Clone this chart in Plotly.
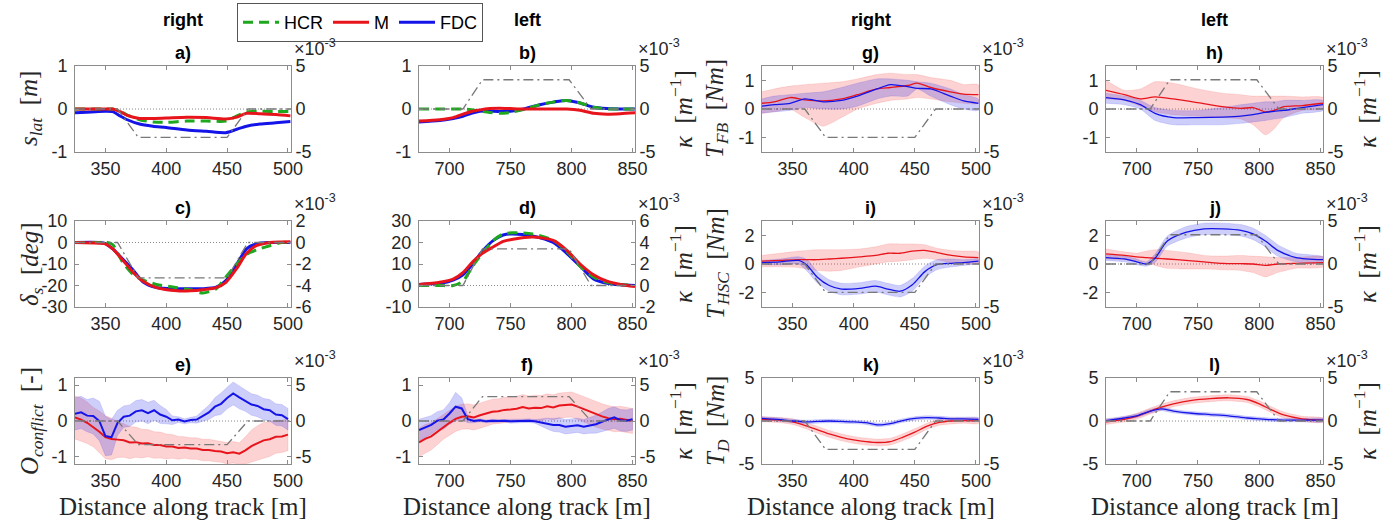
import plotly.graph_objects as go

W, H = 1396, 527

# ---------------- data ----------------
# track curvature profile (units of 1e-3 1/m)
kap_x_right = [325, 360, 377, 450, 467, 502.5]
kap_right = [0, 0, -3.3, -3.3, 0, 0]
kap_x_left = [675, 711, 727, 798, 816, 852]
kap_left = [0, 0, 3.4, 3.4, 0, 0]

# a) s_lat, right turn
a_x = [325, 350, 356, 362, 368, 378, 389, 400, 417, 433, 449, 458, 466, 477, 490, 502]
a_hcr = [0, 0, 0, -0.05, -0.14, -0.25, -0.3, -0.31, -0.28, -0.28, -0.28, -0.16, -0.07, -0.05, -0.06, -0.06]
a_m = [0, 0, 0, -0.06, -0.15, -0.22, -0.22, -0.21, -0.19, -0.2, -0.23, -0.19, -0.1, -0.11, -0.13, -0.16]
a_fdc = [-0.09, -0.05, -0.06, -0.16, -0.25, -0.35, -0.4, -0.43, -0.49, -0.52, -0.55, -0.47, -0.4, -0.35, -0.32, -0.29]

# b) s_lat, left turn
b_x = [675, 692, 703, 711, 718, 725, 733, 741, 750, 758, 766, 774, 785, 796, 807, 818, 829, 840, 852]
b_hcr = [0, 0, 0, 0, -0.02, -0.05, -0.08, -0.1, -0.08, -0.03, 0.03, 0.1, 0.16, 0.2, 0.14, 0.04, 0.0, 0.0, 0.0]
b_m = [-0.28, -0.25, -0.2, -0.12, -0.06, -0.02, 0.01, 0.02, 0.01, 0.0, 0.0, 0.0, 0.0, 0.0, -0.03, -0.1, -0.12, -0.11, -0.09]
b_fdc = [-0.3, -0.27, -0.22, -0.17, -0.1, -0.05, -0.05, -0.06, -0.05, -0.02, 0.04, 0.1, 0.16, 0.2, 0.14, 0.04, 0.01, 0.0, 0.0]

# c) delta_s, right turn
c_x = [325, 345, 350, 356, 364, 373, 381, 392, 409, 420, 430, 441, 449, 458, 466, 474, 485, 495, 502]
c_hcr = [0, 0, 0.3, -1, -9, -15, -17.5, -19.5, -21, -22, -23.5, -21.5, -16, -10, -5.5, -3.5, -1.5, 0, 0]
c_m = [0, -0.3, -0.6, -3, -8, -14, -18, -21, -22.5, -22.5, -22, -21, -18.5, -12, -5, -1.5, 0, 0.2, 0.3]
c_fdc = [0, 0, -0.5, -3, -7.6, -13, -18.4, -21, -21.5, -21.5, -21.5, -20.8, -17.7, -10, -3, -0.6, 0, 0, 0]

# d) delta_s, left turn
d_x = [675, 692, 703, 711, 719, 727, 736, 744, 752, 768, 785, 796, 807, 818, 829, 840, 852]
d_hcr = [0, 0, 0, 2, 9, 15, 21, 24, 24.5, 24, 21, 16, 9, 4, 1.5, 0.5, 0]
d_m = [0.5, 1.5, 3, 6, 11, 15, 18, 20.5, 21.5, 22.5, 21, 16.5, 10, 5, 2, 0.5, -0.5]
d_fdc = [0.5, 1, 2.5, 5, 10, 16, 21, 23.5, 24, 23, 20, 15, 9, 3, 1, 0.3, 0]

# e) O_conflict, right turn (mean and sd)
e_x = [325, 330, 335, 340, 345, 350, 355, 360, 365, 370, 375, 380, 385, 390, 395, 400, 405, 410,
       415, 420, 425, 430, 435, 440, 445, 450, 455, 460, 465, 470, 475, 480, 485, 490, 495, 500]
e_fdc = [0.2, 0.24, 0.15, 0.14, 0.0, -0.42, -0.45, -0.05, 0.12, 0.15, 0.27, 0.3, 0.22, 0.3, 0.18, 0.12, 0.02, 0.04,
         -0.01, 0.03, 0.04, 0.14, 0.24, 0.4, 0.48, 0.64, 0.77, 0.66, 0.57, 0.46, 0.42, 0.33, 0.3, 0.18, 0.16, 0.05]
e_fdc_sd = [0.45, 0.45, 0.45, 0.5, 0.55, 0.55, 0.5, 0.35, 0.3, 0.3, 0.3, 0.3, 0.3, 0.28, 0.25, 0.2, 0.12, 0.08,
            0.07, 0.08, 0.1, 0.15, 0.2, 0.25, 0.3, 0.3, 0.32, 0.32, 0.3, 0.3, 0.3, 0.3, 0.3, 0.3, 0.3, 0.3]
e_m = [0.1, 0.04, -0.05, -0.17, -0.3, -0.45, -0.5, -0.52, -0.54, -0.6, -0.59, -0.63, -0.62, -0.67, -0.67, -0.71, -0.71, -0.75,
       -0.74, -0.77, -0.77, -0.81, -0.81, -0.84, -0.85, -0.9, -0.87, -0.91, -0.82, -0.7, -0.61, -0.54, -0.51, -0.44, -0.43, -0.38]
e_m_sd = [0.6, 0.6, 0.58, 0.55, 0.58, 0.6, 0.58, 0.5, 0.47, 0.45, 0.42, 0.4, 0.38, 0.37, 0.36, 0.35, 0.33, 0.32,
          0.3, 0.3, 0.3, 0.3, 0.3, 0.3, 0.3, 0.3, 0.3, 0.3, 0.38, 0.45, 0.48, 0.5, 0.48, 0.46, 0.45, 0.45]

# f) O_conflict, left turn (mean and sd)
f_x = [675, 680, 685, 690, 695, 700, 705, 710, 715, 720, 725, 730, 735, 740, 745, 750, 755, 760,
       765, 770, 775, 780, 785, 790, 795, 800, 805, 810, 815, 820, 825, 830, 835, 840, 845, 850]
f_fdc = [-0.25, -0.18, -0.11, 0.01, 0.04, 0.21, 0.4, 0.35, 0.05, 0.0, 0.02, -0.01, 0.01, 0.0, 0.01, -0.01, 0.0, 0.0,
         0.01, -0.01, -0.04, -0.07, -0.11, -0.11, -0.16, -0.14, -0.12, -0.16, -0.12, -0.09, -0.02, 0.05, 0.1, 0.02, 0.01, 0.05]
f_fdc_sd = [0.3, 0.28, 0.26, 0.25, 0.27, 0.3, 0.4, 0.3, 0.1, 0.05, 0.04, 0.04, 0.04, 0.04, 0.04, 0.05, 0.05, 0.05,
            0.05, 0.05, 0.1, 0.15, 0.18, 0.2, 0.2, 0.2, 0.2, 0.2, 0.22, 0.25, 0.27, 0.3, 0.3, 0.3, 0.3, 0.3]
f_m = [-0.6, -0.5, -0.43, -0.3, -0.16, -0.05, 0.06, 0.12, 0.13, 0.1, 0.16, 0.2, 0.26, 0.27, 0.31, 0.32, 0.34, 0.39,
       0.35, 0.37, 0.36, 0.41, 0.38, 0.43, 0.45, 0.46, 0.4, 0.33, 0.25, 0.18, 0.13, 0.08, 0.05, 0.06, 0.02, 0.0]
f_m_sd = [0.4, 0.4, 0.38, 0.36, 0.35, 0.35, 0.35, 0.35, 0.35, 0.35, 0.35, 0.35, 0.35, 0.35, 0.35, 0.35, 0.35, 0.35,
          0.35, 0.35, 0.35, 0.35, 0.35, 0.35, 0.35, 0.35, 0.35, 0.35, 0.35, 0.35, 0.35, 0.35, 0.35, 0.35, 0.35, 0.35]

# g) T_FB, right turn
g_x = [325, 335, 348, 360, 375, 390, 403, 419, 430, 444, 452, 463, 479, 490, 502]
g_m = [0.2, 0.25, 0.4, 0.32, 0.28, 0.35, 0.5, 0.7, 0.75, 0.82, 0.9, 0.75, 0.6, 0.52, 0.5]
g_m_hi = [0.6, 0.7, 0.8, 0.85, 0.9, 0.95, 1.05, 1.2, 1.25, 1.2, 1.2, 1.1, 1.0, 0.85, 0.85]
g_m_lo = [-0.15, -0.1, 0.0, -0.3, -0.6, -0.3, 0.0, 0.2, 0.3, 0.35, 0.4, 0.35, 0.25, 0.2, 0.2]
g_fdc = [0.1, 0.15, 0.2, 0.35, 0.25, 0.3, 0.45, 0.7, 0.85, 0.78, 0.72, 0.7, 0.45, 0.28, 0.2]
g_fdc_hi = [0.35, 0.45, 0.5, 0.55, 0.6, 0.75, 0.9, 1.05, 1.05, 1.0, 0.95, 0.9, 0.7, 0.5, 0.35]
g_fdc_lo = [-0.15, -0.1, -0.05, 0.05, 0.0, 0.0, 0.1, 0.35, 0.45, 0.45, 0.7, 0.45, 0.15, 0.0, -0.05]

# h) T_FB, left turn
h_x = [675, 690, 703, 715, 730, 750, 770, 785, 795, 805, 812, 820, 835, 852]
h_m = [0.65, 0.5, 0.35, 0.42, 0.35, 0.22, 0.08, 0.02, 0.05, -0.1, -0.05, 0.08, 0.12, 0.2]
h_m_hi = [1.0, 0.65, 0.7, 0.95, 0.9, 0.7, 0.55, 0.5, 0.45, 0.45, 0.45, 0.45, 0.42, 0.4]
h_m_lo = [0.35, 0.3, 0.1, -0.1, -0.2, -0.25, -0.3, -0.35, -0.55, -0.9, -0.7, -0.3, -0.05, 0.0]
h_fdc = [0.4, 0.32, 0.15, -0.15, -0.3, -0.3, -0.28, -0.25, -0.2, -0.12, -0.08, -0.05, 0.05, 0.15]
h_fdc_hi = [0.55, 0.45, 0.3, 0.05, -0.05, -0.05, 0.05, 0.15, 0.2, 0.25, 0.25, 0.3, 0.3, 0.3]
h_fdc_lo = [0.2, 0.15, 0.0, -0.4, -0.55, -0.55, -0.55, -0.5, -0.45, -0.4, -0.35, -0.3, -0.15, -0.05]

# i) T_HSC, right turn
i_x = [325, 340, 355, 362, 370, 380, 390, 405, 418, 428, 438, 448, 458, 468, 480, 490, 502]
i_m = [0.2, 0.25, 0.3, 0.3, 0.3, 0.35, 0.4, 0.5, 0.6, 0.75, 0.75, 0.9, 0.95, 0.8, 0.6, 0.5, 0.45]
i_m_hi = [0.6, 0.75, 0.9, 0.95, 1.0, 1.0, 1.0, 1.05, 1.2, 1.4, 1.4, 1.4, 1.35, 1.1, 0.95, 0.9, 0.85]
i_m_lo = [-0.2, -0.2, -0.25, -0.35, -0.45, -0.5, -0.45, -0.2, 0.0, 0.15, 0.2, 0.3, 0.4, 0.3, 0.1, 0.05, 0.0]
i_fdc = [0.1, 0.15, 0.25, -0.1, -0.9, -1.5, -1.75, -1.7, -1.55, -1.75, -1.9, -1.45, -0.55, -0.05, 0.05, 0.1, 0.2]
i_fdc_hi = [0.25, 0.35, 0.5, 0.3, -0.5, -1.1, -1.35, -1.3, -1.15, -1.35, -1.5, -1.0, -0.15, 0.3, 0.35, 0.3, 0.35]
i_fdc_lo = [-0.05, -0.05, 0.0, -0.5, -1.3, -1.9, -2.15, -2.1, -1.95, -2.15, -2.3, -1.9, -0.95, -0.4, -0.2, -0.1, 0.05]

# j) T_HSC, left turn
j_x = [675, 690, 700, 708, 715, 725, 740, 755, 770, 785, 795, 805, 815, 830, 852]
j_m = [0.7, 0.6, 0.5, 0.45, 0.4, 0.35, 0.25, 0.15, 0.05, 0.02, 0.0, -0.1, 0.0, 0.05, 0.1]
j_m_hi = [1.05, 0.85, 0.75, 0.9, 1.0, 0.95, 0.8, 0.6, 0.55, 0.6, 0.55, 0.5, 0.45, 0.45, 0.5]
j_m_lo = [0.35, 0.3, 0.2, 0.1, -0.1, -0.3, -0.35, -0.35, -0.4, -0.45, -0.6, -0.9, -0.6, -0.3, -0.2]
j_fdc = [0.45, 0.35, 0.15, 0.0, 0.4, 1.6, 2.2, 2.45, 2.45, 2.35, 2.1, 1.6, 0.95, 0.45, 0.3]
j_fdc_hi = [0.65, 0.55, 0.35, 0.15, 0.7, 1.95, 2.6, 2.85, 2.85, 2.75, 2.5, 2.0, 1.35, 0.75, 0.5]
j_fdc_lo = [0.25, 0.15, -0.05, -0.15, 0.1, 1.25, 1.8, 2.05, 2.05, 1.95, 1.7, 1.2, 0.55, 0.15, 0.1]

# k) T_D, right turn
k_x = [325, 340, 350, 360, 370, 380, 390, 400, 410, 420, 430, 440, 450, 460, 470, 480, 490, 502]
k_m = [0.2, 0.1, -0.1, -0.5, -1.0, -1.5, -1.9, -2.2, -2.4, -2.5, -2.4, -1.9, -1.3, -0.6, -0.15, 0.0, 0.05, 0.0]
k_m_hi = [0.5, 0.4, 0.25, -0.15, -0.6, -1.1, -1.5, -1.8, -2.0, -2.1, -2.0, -1.5, -0.9, -0.25, 0.2, 0.35, 0.35, 0.3]
k_m_lo = [-0.1, -0.2, -0.4, -0.85, -1.4, -1.9, -2.3, -2.6, -2.8, -2.9, -2.8, -2.3, -1.7, -0.95, -0.5, -0.35, -0.25, -0.3]
k_fdc = [0.3, 0.15, 0.0, -0.1, -0.05, 0.0, -0.05, -0.1, -0.2, -0.45, -0.3, 0.05, 0.3, 0.4, 0.35, 0.25, 0.25, 0.2]
k_fdc_hi = [0.5, 0.35, 0.2, 0.1, 0.15, 0.2, 0.15, 0.1, 0.0, -0.25, -0.1, 0.25, 0.5, 0.6, 0.55, 0.45, 0.45, 0.4]
k_fdc_lo = [0.1, -0.05, -0.2, -0.3, -0.25, -0.2, -0.25, -0.3, -0.4, -0.65, -0.5, -0.15, 0.1, 0.2, 0.15, 0.05, 0.05, 0.0]

# l) T_D, left turn
l_x = [675, 690, 700, 710, 720, 730, 745, 760, 775, 790, 800, 810, 820, 835, 852]
l_m = [-0.1, 0.2, 0.55, 1.1, 1.6, 2.0, 2.4, 2.6, 2.7, 2.5, 2.0, 1.3, 0.7, 0.25, 0.1]
l_m_hi = [0.2, 0.5, 0.9, 1.45, 1.95, 2.35, 2.75, 2.95, 3.05, 2.85, 2.35, 1.65, 1.05, 0.55, 0.35]
l_m_lo = [-0.4, -0.1, 0.2, 0.75, 1.25, 1.65, 2.05, 2.25, 2.35, 2.15, 1.65, 0.95, 0.35, -0.05, -0.15]
l_fdc = [0.05, 0.35, 0.6, 1.1, 1.4, 1.15, 0.9, 0.75, 0.6, 0.35, 0.25, 0.15, 0.1, 0.1, 0.1]
l_fdc_hi = [0.25, 0.55, 0.8, 1.3, 1.6, 1.35, 1.1, 0.95, 0.8, 0.55, 0.45, 0.35, 0.3, 0.3, 0.3]
l_fdc_lo = [-0.15, 0.15, 0.4, 0.9, 1.2, 0.95, 0.7, 0.55, 0.4, 0.15, 0.05, -0.05, -0.1, -0.1, -0.1]

# axis settings (tick values / ranges)
x_range_right, x_ticks_right = [325, 502.5], [350, 400, 450, 500]
x_range_left, x_ticks_left = [675, 852], [700, 750, 800, 850]

col_titles = ["right", "left", "right", "left"]
x_title = "Distance along track [m]"
kappa_label = "<i>κ</i>  [<i>m</i><sup>−1</sup>]"

# ---------------- styling ----------------
GREEN = "rgb(30,168,30)"
RED = "rgb(232,20,28)"
BLUE = "rgb(20,20,232)"
RED_FILL = "rgba(240,30,30,0.2)"
BLUE_FILL = "rgba(30,30,235,0.22)"
KAP = "rgb(120,120,120)"
AXC = "#8c8c8c"
TXT = "#262626"
SANS = "Liberation Sans, Arial, sans-serif"
SERIF = "Liberation Serif, Times New Roman, serif"
LAB_SIZE = 25

COLS = [(75, 291), (419, 635), (762, 979), (1106, 1323)]
ROWS = [(66, 152), (221, 307), (378, 464)]

fig = go.Figure()
layout = {}
annotations = []
shapes = []


def xname(n):
    return "x" if n == 1 else f"x{n}"


def yname(n):
    return "y" if n == 1 else f"y{n}"


def lname(prefix, n):
    return prefix if n == 1 else f"{prefix}{n}"


def setup(n, letter, row, col, yrange, yticks, y2range, y2ticks, ylabel, klabel):
    x0, x1 = COLS[col]
    y0, y1 = ROWS[row]
    left = col % 2 == 0
    xr = x_range_right if left else x_range_left
    xt = x_ticks_right if left else x_ticks_left
    xd = [x0 / W, x1 / W]
    yd = [1 - y1 / H, 1 - y0 / H]
    tickfont = dict(family=SANS, size=18, color=TXT)
    common = dict(showline=True, linecolor=AXC, linewidth=1, ticks="inside", ticklen=4,
                  tickcolor=AXC, showgrid=False, zeroline=False, tickfont=tickfont, fixedrange=True,
                  automargin=False)
    layout[lname("xaxis", n)] = dict(domain=xd, range=xr, tickvals=xt, ticktext=[f"{v:g}" for v in xt],
                                     anchor=yname(n), mirror="ticks", **common)
    layout[lname("yaxis", n)] = dict(domain=yd, range=yrange, tickvals=yticks,
                                     ticktext=[f"{v:g}" for v in yticks],
                                     anchor=xname(n), side="left", ticklabelstandoff=3, **common)
    layout[f"yaxis{n + 12}"] = dict(range=y2range, tickvals=y2ticks, ticktext=[f"{v:g}" for v in y2ticks],
                                    anchor=xname(n), overlaying=yname(n), side="right", **common)
    # zero dotted line
    shapes.append(dict(type="line", xref=f"{xname(n)} domain", x0=0, x1=1, yref=yname(n), y0=0, y1=0,
                       line=dict(color="#8a8a8a", width=1, dash="1px,2px"), layer="below"))
    # x10^-3 exponent label
    annotations.append(dict(text="×10<sup>-3</sup>", x=(x1 + 1) / W, y=1 - (y0 - 5) / H, xref="paper",
                            yref="paper", xanchor="left", yanchor="bottom", showarrow=False,
                            font=dict(family=SANS, size=18, color=TXT)))
    # panel letter
    annotations.append(dict(text=f"<b>{letter})</b>", x=(x0 + x1) / 2 / W,
                            y=1 - (y0 - 13) / H, xref="paper", yref="paper", xanchor="center",
                            yanchor="middle", showarrow=False, font=dict(family=SANS, size=18, color="black")))
    if ylabel:
        annotations.append(dict(text=ylabel, x=(31 if col == 0 else 717) / W, y=1 - (y0 + y1) / 2 / H,
                                xref="paper", yref="paper", textangle=-90, showarrow=False,
                                xanchor="center", yanchor="middle",
                                font=dict(family=SERIF, size=LAB_SIZE, color=TXT)))
    if klabel:
        annotations.append(dict(text=kappa_label, x=(681 if col == 1 else 1365) / W, y=1 - (y0 + y1) / 2 / H,
                                xref="paper", yref="paper", textangle=-90, showarrow=False,
                                xanchor="center", yanchor="middle",
                                font=dict(family=SERIF, size=LAB_SIZE, color=TXT)))
    if row == 2:
        annotations.append(dict(text=x_title, x=(x0 + x1) / 2 / W, y=1 - 506 / H, xref="paper",
                                yref="paper", xanchor="center", yanchor="middle", showarrow=False,
                                font=dict(family=SERIF, size=25, color=TXT)))
    if row == 0:
        annotations.append(dict(text=f"<b>{col_titles[col]}</b>", x=(x0 + x1) / 2 / W, y=1 - 20 / H,
                                xref="paper", yref="paper", xanchor="center", yanchor="middle",
                                showarrow=False, font=dict(family=SANS, size=18, color="black")))
    # curvature profile
    kx = kap_x_right if left else kap_x_left
    ky = kap_right if left else kap_left
    fig.add_trace(go.Scatter(x=kx, y=ky, mode="lines", xaxis=xname(n), yaxis=f"y{n + 12}",
                             line=dict(color=KAP, width=1.3, dash="10px,4px,2px,4px"),
                             showlegend=False, hoverinfo="skip"))


def line(n, x, y, color, width, dash=None, name=None, legend=False, rank=None, shape="spline"):
    fig.add_trace(go.Scatter(x=x, y=y, mode="lines", xaxis=xname(n), yaxis=yname(n),
                             line=dict(color=color, width=width, dash=dash, shape=shape, smoothing=0.7),
                             name=name, showlegend=legend, legendrank=rank, hoverinfo="skip"))


def band(n, x, lo, hi, fill, shape="spline"):
    fig.add_trace(go.Scatter(x=list(x) + list(x)[::-1], y=list(hi) + list(lo)[::-1], mode="lines",
                             xaxis=xname(n), yaxis=yname(n), fill="toself", fillcolor=fill,
                             line=dict(width=0.6, color=fill, shape=shape, smoothing=0.6),
                             showlegend=False, hoverinfo="skip"))


s_lat = "<i>s<sub>lat</sub></i>  [<i>m</i>]"
d_s = "<i>δ<sub>s</sub></i>  [<i>deg</i>]"
o_c = "<i>O<sub>conflict</sub></i>  [-]"
t_fb = "<i>T<sub>FB</sub></i>  [<i>Nm</i>]"
t_hsc = "<i>T<sub>HSC</sub></i>  [<i>Nm</i>]"
t_d = "<i>T<sub>D</sub></i>  [<i>Nm</i>]"

# a)
setup(1, "a", 0, 0, [-1, 1], [-1, 0, 1], [-5, 5], [-5, 0, 5], s_lat, False)
line(1, a_x, a_fdc, BLUE, 3, name="FDC", legend=True, rank=3)
line(1, a_x, a_hcr, GREEN, 3, dash="10px,6px", name="HCR", legend=True, rank=1)
line(1, a_x, a_m, RED, 3, name="M", legend=True, rank=2)
# b)
setup(2, "b", 0, 1, [-1, 1], [-1, 0, 1], [-5, 5], [-5, 0, 5], None, True)
line(2, b_x, b_fdc, BLUE, 3)
line(2, b_x, b_hcr, GREEN, 3, dash="10px,6px")
line(2, b_x, b_m, RED, 3)
# c)
setup(3, "c", 1, 0, [-30, 10], [-30, -20, -10, 0, 10], [-6, 2], [-6, -4, -2, 0, 2], d_s, False)
line(3, c_x, c_fdc, BLUE, 3)
line(3, c_x, c_hcr, GREEN, 3, dash="10px,6px")
line(3, c_x, c_m, RED, 3)
# d)
setup(4, "d", 1, 1, [-10, 30], [-10, 0, 10, 20, 30], [-2, 6], [-2, 0, 2, 4, 6], None, True)
line(4, d_x, d_fdc, BLUE, 3)
line(4, d_x, d_hcr, GREEN, 3, dash="10px,6px")
line(4, d_x, d_m, RED, 3)
# e)
setup(5, "e", 2, 0, [-1.2, 1.2], [-1, 0, 1], [-6, 6], [-5, 0, 5], o_c, False)
band(5, e_x, [m - s for m, s in zip(e_m, e_m_sd)], [m + s for m, s in zip(e_m, e_m_sd)], RED_FILL, "linear")
band(5, e_x, [m - s for m, s in zip(e_fdc, e_fdc_sd)], [m + s for m, s in zip(e_fdc, e_fdc_sd)], BLUE_FILL, "linear")
line(5, e_x, e_m, RED, 2, shape="linear")
line(5, e_x, e_fdc, BLUE, 2, shape="linear")
# f)
setup(6, "f", 2, 1, [-1.2, 1.2], [-1, 0, 1], [-6, 6], [-5, 0, 5], None, True)
band(6, f_x, [m - s for m, s in zip(f_m, f_m_sd)], [m + s for m, s in zip(f_m, f_m_sd)], RED_FILL, "linear")
band(6, f_x, [m - s for m, s in zip(f_fdc, f_fdc_sd)], [m + s for m, s in zip(f_fdc, f_fdc_sd)], BLUE_FILL, "linear")
line(6, f_x, f_m, RED, 2, shape="linear")
line(6, f_x, f_fdc, BLUE, 2, shape="linear")
# g)
setup(7, "g", 0, 2, [-1.5, 1.5], [-1, 0, 1], [-5, 5], [-5, 0, 5], t_fb, False)
band(7, g_x, g_m_lo, g_m_hi, RED_FILL)
band(7, g_x, g_fdc_lo, g_fdc_hi, BLUE_FILL)
line(7, g_x, g_m, RED, 1.3)
line(7, g_x, g_fdc, BLUE, 1.3)
# h)
setup(8, "h", 0, 3, [-1.5, 1.5], [-1, 0, 1], [-5, 5], [-5, 0, 5], None, True)
band(8, h_x, h_m_lo, h_m_hi, RED_FILL)
band(8, h_x, h_fdc_lo, h_fdc_hi, BLUE_FILL)
line(8, h_x, h_m, RED, 1.3)
line(8, h_x, h_fdc, BLUE, 1.3)
# i)
setup(9, "i", 1, 2, [-3, 3], [-2, 0, 2], [-5, 5], [-5, 0, 5], t_hsc, False)
band(9, i_x, i_m_lo, i_m_hi, RED_FILL)
band(9, i_x, i_fdc_lo, i_fdc_hi, BLUE_FILL)
line(9, i_x, i_m, RED, 1.3)
line(9, i_x, i_fdc, BLUE, 1.3)
# j)
setup(10, "j", 1, 3, [-3, 3], [-2, 0, 2], [-5, 5], [-5, 0, 5], None, True)
band(10, j_x, j_m_lo, j_m_hi, RED_FILL)
band(10, j_x, j_fdc_lo, j_fdc_hi, BLUE_FILL)
line(10, j_x, j_m, RED, 1.3)
line(10, j_x, j_fdc, BLUE, 1.3)
# k)
setup(11, "k", 2, 2, [-5, 5], [-5, 0, 5], [-5, 5], [-5, 0, 5], t_d, False)
band(11, k_x, k_m_lo, k_m_hi, RED_FILL)
band(11, k_x, k_fdc_lo, k_fdc_hi, BLUE_FILL)
line(11, k_x, k_m, RED, 1.3)
line(11, k_x, k_fdc, BLUE, 1.3)
# l)
setup(12, "l", 2, 3, [-5, 5], [-5, 0, 5], [-5, 5], [-5, 0, 5], None, True)
band(12, l_x, l_m_lo, l_m_hi, RED_FILL)
band(12, l_x, l_fdc_lo, l_fdc_hi, BLUE_FILL)
line(12, l_x, l_m, RED, 1.3)
line(12, l_x, l_fdc, BLUE, 1.3)

fig.update_layout(
    width=W, height=H, margin=dict(l=0, r=0, t=0, b=0, pad=0, autoexpand=False),
    paper_bgcolor="white", plot_bgcolor="white",
    annotations=annotations, shapes=shapes,
    legend=dict(orientation="h", x=237 / W, y=1 - 3 / H, xanchor="left", yanchor="top",
                bgcolor="white", bordercolor="#555555", borderwidth=1,
                font=dict(family=SANS, size=18, color="black"), itemwidth=36, tracegroupgap=0),
    **layout,
)

fig.write_html("out.html", config={"displayModeBar": False},
               post_script="document.body.style.margin='0';document.body.style.padding='0';")
